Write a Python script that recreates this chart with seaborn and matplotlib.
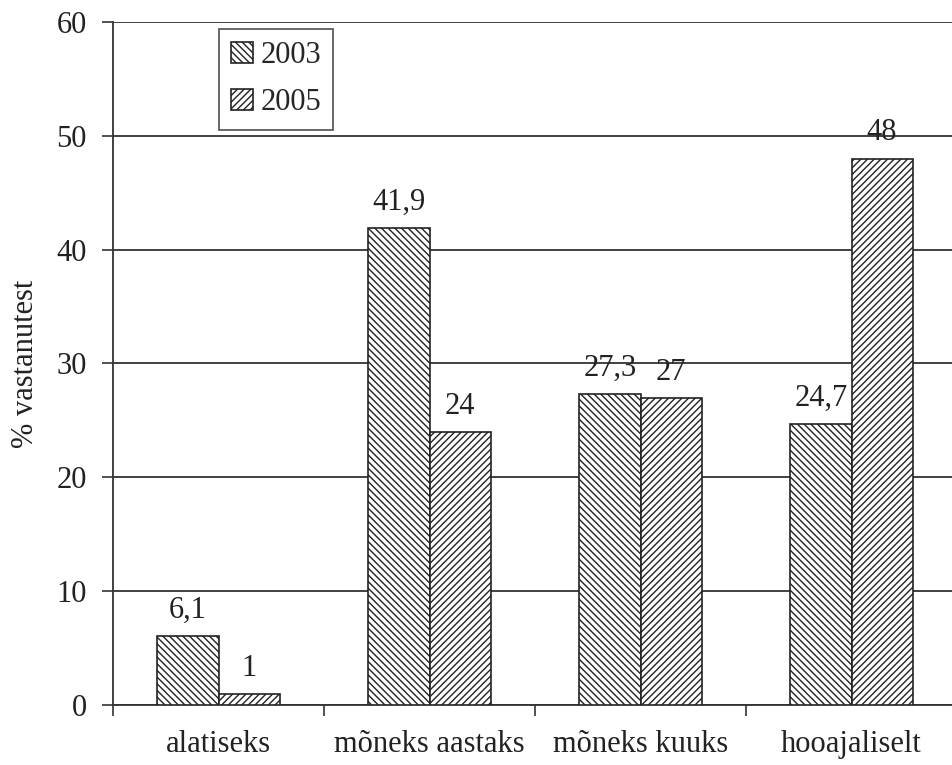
import matplotlib
matplotlib.use("Agg")
import matplotlib.pyplot as plt
import seaborn as sns
import pandas as pd

# Survey answers (% of respondents) by year
categories = ["alatiseks", "mõneks aastaks", "mõneks kuuks", "hooajaliselt"]
years = ["2003", "2005"]
values_2003 = [6.1, 41.9, 27.3, 24.7]
values_2005 = [1, 24, 27, 48]
value_labels_2003 = ["6,1", "41,9", "27,3", "24,7"]
value_labels_2005 = ["1", "24", "27", "48"]
y_ticks = [0, 10, 20, 30, 40, 50, 60]

df = pd.DataFrame({
    "kategooria": categories * 2,
    "aasta": [years[0]] * 4 + [years[1]] * 4,
    "protsent": values_2003 + values_2005,
})

sns.set_theme(style="white")
plt.rcParams["font.family"] = ["Liberation Serif", "DejaVu Serif"]
plt.rcParams["hatch.linewidth"] = 1.0
plt.rcParams["hatch.color"] = "#222222"

TXT = "#222222"
FS = 22

fig = plt.figure(figsize=(9.52, 7.65), dpi=100)
ax = fig.add_axes([113 / 952, 1 - 705 / 765, 844 / 952, 683 / 765])

sns.barplot(data=df, x="kategooria", y="protsent", hue="aasta",
            order=categories, hue_order=years,
            palette=["white", "white"], edgecolor=TXT, linewidth=1.2,
            width=0.58, gap=0, ax=ax, legend=False, zorder=3)

hatches = ["\\\\\\\\\\", "/////"]
for cont, h in zip(ax.containers, hatches):
    for bar in cont:
        bar.set_hatch(h)

for cont, labels in zip(ax.containers, [value_labels_2003, value_labels_2005]):
    ax.bar_label(cont, labels=labels, padding=8, fontsize=FS, color=TXT)

ax.set_ylim(0, 60)
ax.set_xlim(-0.5, 3.5)
ax.set_yticks(y_ticks)
ax.set_yticklabels([str(t) for t in y_ticks], fontsize=FS, color=TXT)
ax.yaxis.grid(True, color="#333333", linewidth=1.3, zorder=0)
ax.set_axisbelow(True)

# category boundaries as major ticks, names centred as minor ticks
ax.set_xticks([-0.5, 0.5, 1.5, 2.5, 3.5])
ax.set_xticklabels([])
ax.set_xticks(range(len(categories)), minor=True)
ax.set_xticklabels(categories, minor=True, fontsize=FS, color=TXT)
ax.tick_params(axis="x", which="major", direction="out", length=8, width=1.2,
               color="#333333", bottom=True)
ax.tick_params(axis="x", which="minor", length=0, pad=18)
ax.tick_params(axis="y", direction="out", length=8, width=1.2,
               color="#333333", left=True, pad=11)

for side in ["top", "right"]:
    ax.spines[side].set_visible(False)
for side in ["left", "bottom"]:
    ax.spines[side].set_color("#333333")
    ax.spines[side].set_linewidth(1.3)

ax.set_xlabel("")
ax.set_ylabel("% vastanutest", fontsize=FS, color=TXT)
ax.yaxis.set_label_coords(-0.086, 0.5)

leg = ax.legend(handles=list(ax.containers), labels=years,
                loc="upper left", bbox_to_anchor=(0.1256, 0.99),
                fontsize=FS, frameon=True, fancybox=False,
                handlelength=0.7, handleheight=0.7, handletextpad=0.25,
                labelspacing=0.6, borderpad=0.4, borderaxespad=0)
leg.get_frame().set_edgecolor(TXT)
leg.get_frame().set_linewidth(1.2)

fig.savefig("out.png", dpi=100)
